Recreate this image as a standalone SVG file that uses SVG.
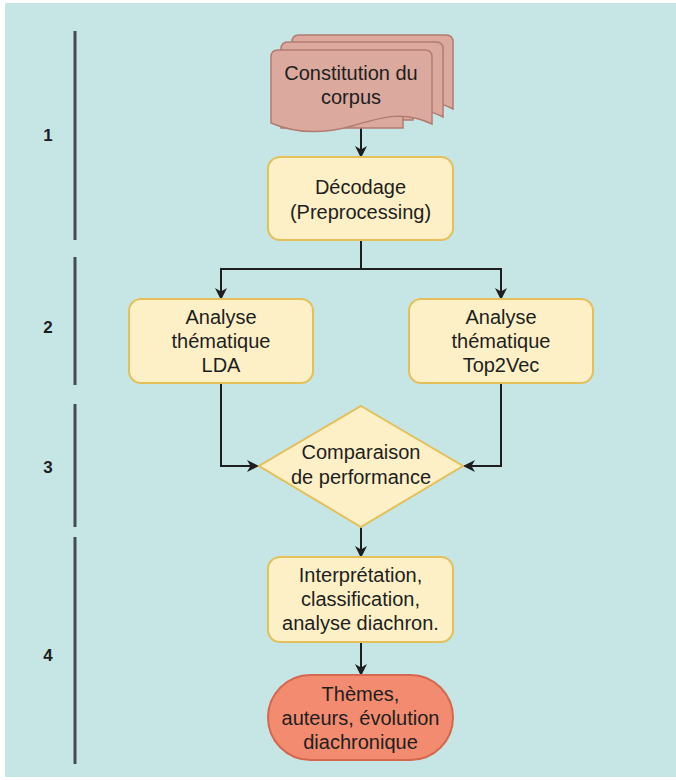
<svg xmlns="http://www.w3.org/2000/svg" width="676" height="780" viewBox="0 0 676 780">
<defs>
<style>
.lbl{font-family:"Liberation Sans",Arial,sans-serif;font-size:20px;fill:#1e1e1e;text-anchor:middle;dominant-baseline:central}
.num{font-family:"Liberation Sans",Arial,sans-serif;font-size:17px;font-weight:bold;fill:#1e1e1e;text-anchor:middle;dominant-baseline:central}
.box{fill:#fdf0c6;stroke:#e4bf5a;stroke-width:2}
.doc{fill:#dba99d;stroke:#b27b70;stroke-width:1.5}
.term{fill:#f28b6f;stroke:#d5674f;stroke-width:2}
.sep{stroke:#454a4f;stroke-width:3;fill:none}
.edge{stroke:#1e1e1e;stroke-width:2;fill:none;marker-end:url(#arr)}
</style>
<marker id="arr" viewBox="0 0 12 12" refX="11" refY="6" markerWidth="12" markerHeight="12" markerUnits="userSpaceOnUse" orient="auto">
<path d="M0,0 L12,6 L0,12 L3.5,6 Z" fill="#1e1e1e"/>
</marker>
</defs>
<rect x="5" y="3" width="671" height="774" fill="#c6e6e6"/>
<g id="phases">
<line class="sep" x1="75" y1="31" x2="75" y2="240"/>
<line class="sep" x1="75" y1="257" x2="75" y2="385"/>
<line class="sep" x1="75" y1="404" x2="75" y2="527"/>
<line class="sep" x1="75" y1="537" x2="75" y2="764"/>
<text class="num" x="48" y="135">1</text>
<text class="num" x="48" y="327">2</text>
<text class="num" x="48" y="467">3</text>
<text class="num" x="48" y="655">4</text>
</g>
<g id="connectors">
<line class="edge" x1="361" y1="125" x2="361" y2="157"/>
<path class="edge" d="M361,240 L361,269 L221,269 L221,299"/>
<path class="edge" d="M361,269 L501,269 L501,299"/>
<path class="edge" d="M221,383 L221,466 L258,466"/>
<path class="edge" d="M501,383 L501,466 L464,466"/>
<line class="edge" x1="361" y1="527" x2="361" y2="557"/>
<line class="edge" x1="361" y1="642" x2="361" y2="675"/>
</g>
<g id="corpus">
<path class="doc" d="M292,42 Q292,35 299,35 L446,35 Q453,35 453,42 L453,109 C440,102 425,100 413,104 L413,120 L292,120 Z"/>
<path class="doc" d="M281,49 Q281,42 288,42 L436,42 Q443,42 443,49 L443,117 C430,110 415,108 403,112 L403,128 L281,128 Z"/>
<path class="doc" d="M271,57 Q271,50 278,50 L425,50 Q432,50 432,57 L432,124 C405,111 385,116 352,126 C320,135 292,132 271,123 Z"/>
<text class="lbl" x="351" y="73">Constitution du</text>
<text class="lbl" x="351" y="97">corpus</text>
</g>
<g id="decodage">
<rect class="box" x="268" y="157" width="185" height="83" rx="12"/>
<text class="lbl" x="360.5" y="187">Décodage</text>
<text class="lbl" x="360.5" y="212">(Preprocessing)</text>
</g>
<g id="lda">
<rect class="box" x="129" y="299" width="184" height="84" rx="12"/>
<text class="lbl" x="221" y="317">Analyse</text>
<text class="lbl" x="221" y="341">thématique</text>
<text class="lbl" x="221" y="365">LDA</text>
</g>
<g id="top2vec">
<rect class="box" x="409" y="299" width="184" height="84" rx="12"/>
<text class="lbl" x="501" y="317">Analyse</text>
<text class="lbl" x="501" y="341">thématique</text>
<text class="lbl" x="501" y="365">Top2Vec</text>
</g>
<g id="comparaison">
<path class="box" d="M361,406 L463,466 L361,527 L259,466 Z"/>
<text class="lbl" x="361" y="452">Comparaison</text>
<text class="lbl" x="361" y="477">de performance</text>
</g>
<g id="interpretation">
<rect class="box" x="268" y="557" width="185" height="85" rx="12"/>
<text class="lbl" x="360.5" y="575">Interprétation,</text>
<text class="lbl" x="360.5" y="599">classification,</text>
<text class="lbl" x="360.5" y="623">analyse diachron.</text>
</g>
<g id="resultats">
<rect class="term" x="268" y="675" width="185" height="85" rx="42.5"/>
<text class="lbl" x="360.5" y="694">Thèmes,</text>
<text class="lbl" x="360.5" y="718">auteurs, évolution</text>
<text class="lbl" x="360.5" y="742">diachronique</text>
</g>
</svg>
